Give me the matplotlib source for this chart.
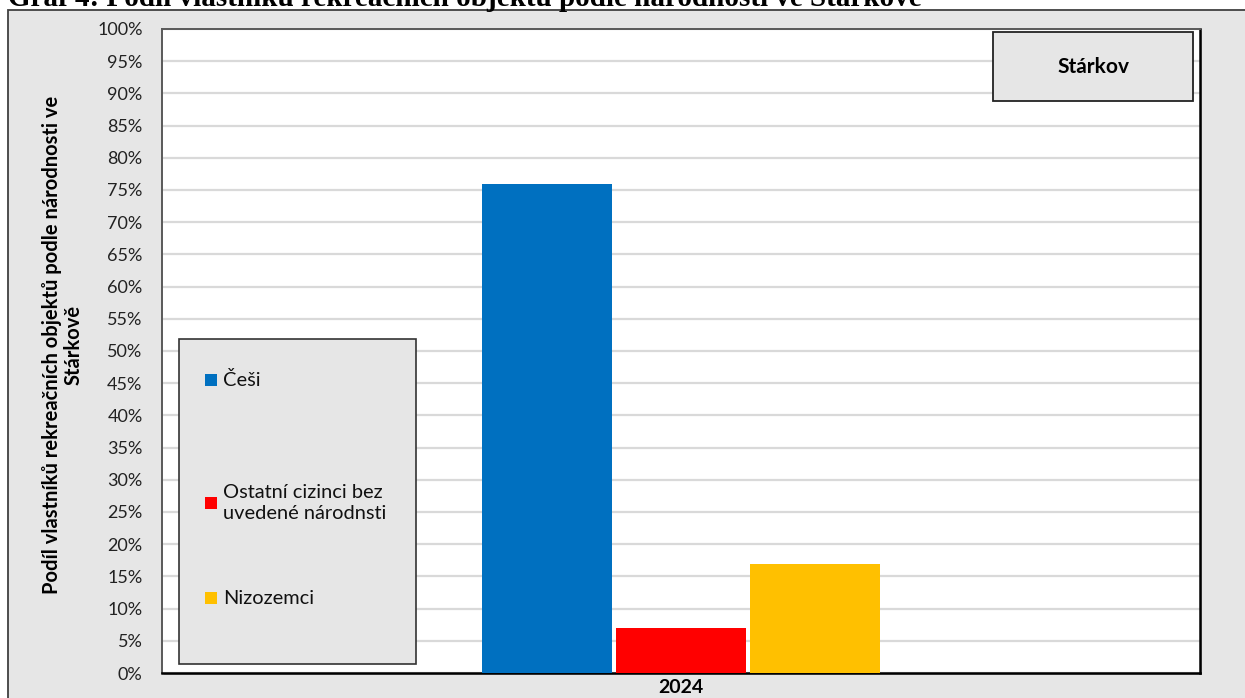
import matplotlib
matplotlib.use('Agg', force=True)
import matplotlib.pyplot as plt
import numpy as np
from matplotlib.patches import Rectangle

categories = ['2024']
series_names = ['Češi', 'Ostatní cizinci bez\nuvedené národnsti', 'Nizozemci']
series_values = [76, 7, 17]
series_colors = ['#0070C0', '#FF0000', '#FFC000']
y_ticks = list(range(0, 101, 5))

title = 'Graf 4: Podíl vlastníků rekreačních objektů podle národnosti ve Stárkově'
y_label = 'Podíl vlastníků rekreačních objektů podle národnosti ve\nStárkově'
place = 'Stárkov'

W, H = 1245, 698
plt.rcParams['font.family'] = ['Lato', 'DejaVu Sans']


def fx(px):
    return px / W


def fy(py):
    return 1 - py / H


fig = plt.figure(figsize=(W / 100, H / 100), dpi=100)
fig.patch.set_facecolor('white')

# outer chart area
fig.patches.append(Rectangle((fx(8), fy(720)), fx(1260), 710 / H, transform=fig.transFigure,
                             facecolor='#e6e6e6', edgecolor='#404040', linewidth=1.3, zorder=-2))
# shadow of the plot area
fig.patches.append(Rectangle((fx(164), fy(675)), fx(1038), 644 / H, transform=fig.transFigure,
                             facecolor='#bdbdbd', edgecolor='none', zorder=-1))

fig.text(fx(8), fy(6), title, family='Liberation Serif', fontweight='bold', fontsize=21,
         ha='left', va='baseline', color='black')

ax = fig.add_axes([fx(162), fy(673), fx(1038), 644 / H])
ax.set_facecolor('white')

x = np.arange(len(categories))
width = 0.125
offsets = [-0.129, 0, 0.129]
for name, val, col, off in zip(series_names, series_values, series_colors, offsets):
    ax.bar(x + off, [val], width=width, color=col, edgecolor='none', zorder=3, label=name)

ax.set_xlim(-0.5, 0.5)
ax.set_ylim(0, 100)
ax.set_yticks(y_ticks)
ax.set_yticklabels([f'{t}%' for t in y_ticks], fontsize=13, color='#222222')
ax.set_xticks(x)
ax.set_xticklabels(categories, fontsize=14, fontweight='bold')
ax.tick_params(axis='y', length=0, pad=14)
ax.tick_params(axis='x', length=0, pad=4)
ax.grid(axis='y', color='#d9d9d9', linewidth=1.6, zorder=0)
ax.set_axisbelow(True)
for side in ['left', 'top']:
    ax.spines[side].set_color('#595959')
    ax.spines[side].set_linewidth(1.4)
for side in ['right', 'bottom']:
    ax.spines[side].set_color('black')
    ax.spines[side].set_linewidth(1.8)

fig.text(fx(63), fy(345), y_label, rotation=90, fontweight='bold', fontsize=14.5,
         ha='center', va='center', multialignment='center', linespacing=1.1)

# legend box
fig.patches.append(Rectangle((fx(179), fy(664)), fx(237), 325 / H, transform=fig.transFigure,
                             facecolor='#e6e6e6', edgecolor='#333333', linewidth=1.2, zorder=5))
legend_y = [380, 503, 598]
for name, col, ly in zip(series_names, series_colors, legend_y):
    fig.patches.append(Rectangle((fx(205), fy(ly + 6)), fx(12), 12 / H, transform=fig.transFigure,
                                 facecolor=col, edgecolor='none', zorder=6))
    fig.text(fx(223), fy(ly), name, fontsize=14.4, ha='left', va='center',
             linespacing=1.35, color='#111111', zorder=7)

# place label box
fig.patches.append(Rectangle((fx(993), fy(101)), fx(200), 69 / H, transform=fig.transFigure,
                             facecolor='#e6e6e6', edgecolor='#222222', linewidth=1.3, zorder=5))
fig.text(fx(1093), fy(67), place, fontsize=15, fontweight='bold', ha='center', va='center', zorder=7)

fig.savefig('out.png', dpi=100)
plt.close(fig)
